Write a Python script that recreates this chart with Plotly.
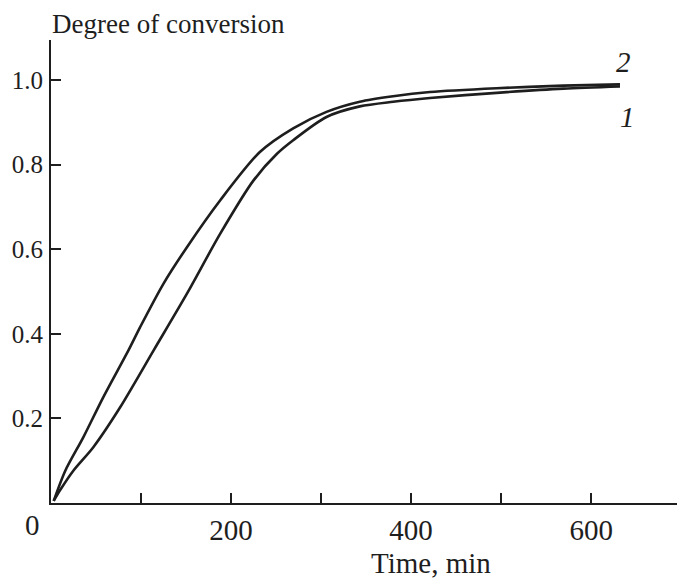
import plotly.graph_objects as go

# Curve 1 (lower)
time1 = [3, 10, 25, 47, 77, 114, 151, 188, 225, 251, 269, 306, 343, 380, 421, 495, 569, 632]
conv1 = [0.005, 0.03, 0.077, 0.132, 0.227, 0.361, 0.495, 0.637, 0.763, 0.826, 0.858, 0.913, 0.938, 0.949, 0.958, 0.970, 0.980, 0.985]

# Curve 2 (upper)
time2 = [3, 16, 36, 58, 86, 99, 125, 151, 188, 232, 269, 306, 343, 380, 421, 495, 569, 632]
conv2 = [0.005, 0.077, 0.156, 0.25, 0.361, 0.416, 0.519, 0.605, 0.716, 0.830, 0.886, 0.925, 0.949, 0.962, 0.972, 0.981, 0.987, 0.990]

x_ticks = [0, 100, 200, 300, 400, 500, 600, 700]
x_tick_text = ["", "", "200", "", "400", "", "600", ""]
y_ticks = [0.2, 0.4, 0.6, 0.8, 1.0]
y_tick_text = ["0.2", "0.4", "0.6", "0.8", "1.0"]

FONT = "Liberation Serif"
INK = "#1e1e1e"
FS = 29
FS_Y = 25
FS_T = 27

fig = go.Figure()
for t, c in [(time1, conv1), (time2, conv2)]:
    fig.add_trace(go.Scatter(x=t, y=c, mode="lines",
                             line=dict(color=INK, width=2.6, shape="spline", smoothing=0.8),
                             showlegend=False, hoverinfo="skip"))

fig.update_layout(
    width=685, height=581,
    margin=dict(l=43, r=10, t=32, b=86),
    paper_bgcolor="white", plot_bgcolor="white",
    font=dict(family=FONT, size=FS, color=INK),
    xaxis=dict(range=[0, 702], tickmode="array", tickvals=x_ticks, ticktext=x_tick_text,
               ticks="inside", ticklen=10, tickwidth=1.5, tickcolor=INK, automargin=False,
               showline=True, linecolor=INK, linewidth=2, showgrid=False, zeroline=False,
               tickfont=dict(family=FONT, size=FS)),
    yaxis=dict(range=[0, 1.095], tickmode="array", tickvals=y_ticks, ticktext=y_tick_text,
               ticks="inside", ticklen=10, tickwidth=1.5, tickcolor=INK, automargin=False,
               showline=True, linecolor=INK, linewidth=2, showgrid=False, zeroline=False,
               tickfont=dict(family=FONT, size=FS_Y), ticklabelstandoff=1),
)

fig.add_annotation(text="Degree of conversion", xref="paper", yref="paper",
                   x=0.0, y=1.0, xshift=-1, yshift=16, xanchor="left", yanchor="middle",
                   showarrow=False, font=dict(family=FONT, size=FS_T, color=INK))
fig.add_annotation(text="Time, min", xref="x", yref="paper", x=422, y=0, yshift=-60,
                   xanchor="center", yanchor="middle", showarrow=False,
                   font=dict(family=FONT, size=FS, color=INK))
fig.add_annotation(text="0", xref="x", yref="paper", x=0, y=0, xshift=-19, yshift=-22,
                   xanchor="center", yanchor="middle", showarrow=False,
                   font=dict(family=FONT, size=FS, color=INK))
fig.add_annotation(text="<i>2</i>", xref="x", yref="y", x=636, y=1.043,
                   showarrow=False, font=dict(family=FONT, size=FS, color=INK))
fig.add_annotation(text="<i>1</i>", xref="x", yref="y", x=640, y=0.912,
                   showarrow=False, font=dict(family=FONT, size=FS, color=INK))

fig.write_html("out.html")
